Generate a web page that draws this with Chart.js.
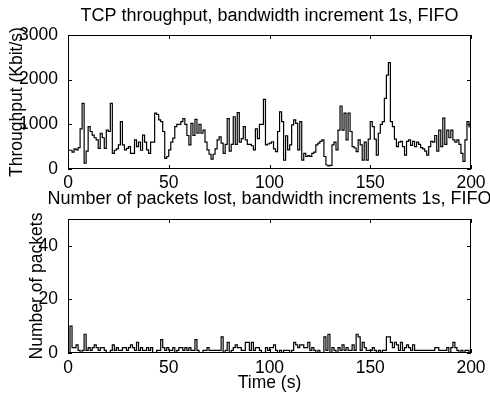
<!DOCTYPE html>
<html>
<head>
<meta charset="utf-8">
<script src="https://cdn.jsdelivr.net/npm/chart.js@4"></script>
<style>
  html, body { margin: 0; padding: 0; background: #fff; overflow: hidden; }
  body { width: 490px; height: 396px; position: relative; }
  canvas { position: absolute; left: 0; }
  #top { top: 0; }
  #bottom { top: 185px; }
</style>
</head>
<body>
<canvas id="top" width="490" height="196"></canvas>
<canvas id="bottom" width="490" height="211"></canvas>
<script>
// one value per second, t = 0..200 (last value is where the stair ends)
const throughput = [
  420, 420, 380, 450, 430, 480, 900, 1470, 130, 400,
  950, 840, 760, 700, 650, 460, 800, 700, 460, 870,
  840, 1470, 350, 420, 450, 540, 1060, 540, 430, 460,
  500, 350, 350, 650, 500, 600, 420, 760, 600, 430,
  350, 600, 600, 1250, 1220, 1100, 1060, 840, 240, 280,
  430, 600, 690, 950, 1000, 1000, 1060, 1130, 1000, 750,
  540, 1020, 750, 1110, 800, 1000, 800, 870, 600, 430,
  330, 220, 330, 450, 650, 720, 580, 350, 550, 1130,
  400, 550, 1170, 550, 1260, 600, 680, 950, 650, 550,
  550, 520, 430, 900, 680, 1000, 1000, 1560, 540, 560,
  580, 610, 450, 390, 840, 1280, 1060, 200, 740, 430,
  540, 990, 1100, 1020, 430, 1060, 200, 350, 280, 300,
  280, 350, 380, 540, 580, 620, 650, 280, 90, 70,
  80, 540, 600, 430, 870, 1410, 870, 1250, 650, 1250,
  840, 500, 470, 390, 650, 540, 200, 600, 200, 670,
  1060, 950, 670, 310, 800, 1000, 1060, 1580, 2100, 2380,
  1060, 950, 670, 500, 600, 620, 500, 310, 620, 650,
  530, 620, 500, 600, 550, 480, 450, 400, 310, 500,
  620, 600, 750, 400, 870, 500, 1140, 550, 870, 700,
  870, 650, 600, 650, 550, 350, 170, 650, 1060, 950,
  240
];

const packetsLost = [
  0, 10, 2, 2, 3, 1, 0, 1, 7, 1,
  2, 1, 2, 3, 2, 1, 2, 2, 1, 0,
  0, 1, 3, 1, 2, 1, 1, 2, 2, 1,
  2, 3, 2, 1, 4, 1, 2, 1, 1, 2,
  1, 2, 0, 0, 1, 1, 5, 2, 1, 2,
  1, 1, 2, 0, 1, 2, 2, 1, 2, 1,
  2, 1, 1, 5, 1, 0, 0, 1, 1, 2,
  1, 1, 1, 1, 1, 1, 6, 0, 1, 4,
  0, 1, 2, 3, 2, 2, 1, 1, 4, 4,
  1, 4, 1, 2, 2, 1, 0, 0, 2, 1,
  2, 2, 3, 1, 0, 1, 0, 1, 1, 1,
  0, 1, 4, 3, 2, 3, 3, 2, 2, 4,
  1, 2, 1, 0, 1, 0, 0, 6, 1, 7,
  0, 2, 1, 0, 2, 1, 3, 1, 2, 1,
  1, 3, 1, 7, 6, 1, 4, 2, 1, 1,
  1, 2, 1, 0, 1, 0, 1, 1, 6, 6,
  4, 2, 4, 3, 1, 4, 1, 2, 3, 2,
  1, 3, 1, 1, 1, 1, 1, 1, 1, 1,
  1, 1, 2, 2, 1, 1, 1, 1, 2, 0,
  2, 4, 2, 1, 0, 1, 0, 1, 1, 0,
  0
];

const timeTicks = [0, 50, 100, 150, 200];
const throughputTicks = [0, 1000, 2000, 3000];
const packetTicks = [0, 20, 40];

Chart.defaults.font.family = '"Liberation Sans", Arial, Helvetica, sans-serif';
Chart.defaults.font.size = 17.5;
Chart.defaults.color = '#000';

// matlab-ish box with inward ticks on all four sides, plus the title
const frame = {
  id: 'frame',
  afterDraw(chart, args, opts) {
    const { ctx, chartArea: a, scales: { x, y } } = chart;
    ctx.save();
    ctx.strokeStyle = '#000';
    ctx.lineWidth = 1;
    ctx.strokeRect(a.left + 0.5, a.top + 0.5, a.width - 1, a.height - 1);
    ctx.beginPath();
    x.ticks.forEach(t => {
      const px = Math.round(x.getPixelForValue(t.value)) + 0.5;
      ctx.moveTo(px, a.bottom); ctx.lineTo(px, a.bottom - 4);
      ctx.moveTo(px, a.top); ctx.lineTo(px, a.top + 4);
    });
    y.ticks.forEach(t => {
      const py = Math.round(y.getPixelForValue(t.value)) + 0.5;
      ctx.moveTo(a.left, py); ctx.lineTo(a.left + 4, py);
      ctx.moveTo(a.right, py); ctx.lineTo(a.right - 4, py);
    });
    ctx.stroke();
    ctx.font = '18px "Liberation Sans", Arial, sans-serif';
    ctx.fillStyle = '#000';
    ctx.textAlign = 'center';
    ctx.textBaseline = 'alphabetic';
    ctx.fillText(opts.text, (a.left + a.right) / 2, opts.baseline);
    ctx.restore();
  }
};

function makeChart(id, values, yTicks, yMax, o) {
  const points = values.map((v, i) => ({ x: i, y: v }));
  return new Chart(document.getElementById(id), {
    type: 'line',
    data: {
      datasets: [{
        data: points,
        stepped: 'before',
        borderColor: '#000',
        borderWidth: 1.2,
        pointRadius: 0,
        fill: false
      }]
    },
    options: {
      responsive: false,
      animation: false,
      layout: { padding: { left: 0, right: 19, top: o.top, bottom: 0 } },
      plugins: {
        legend: { display: false },
        tooltip: { enabled: false },
        frame: { text: o.title, baseline: o.titleBaseline }
      },
      scales: {
        x: {
          type: 'linear',
          min: 0,
          max: 200,
          grid: { display: false },
          border: { display: false },
          afterBuildTicks: s => { s.ticks = timeTicks.map(v => ({ value: v })); },
          ticks: { padding: o.xTickPad, maxRotation: 0, callback: v => String(v) },
          title: { display: !!o.xTitle, text: o.xTitle || '', padding: { top: 0, bottom: 2 } },
          afterFit: s => { s.height = o.xHeight; }
        },
        y: {
          min: 0,
          max: yMax,
          grid: { display: false },
          border: { display: false },
          afterBuildTicks: s => { s.ticks = yTicks.map(v => ({ value: v })); },
          ticks: { padding: 2, callback: v => String(v) },
          title: { display: true, text: o.yTitle, padding: { top: o.yTitlePad, bottom: 0 } },
          afterFit: s => { s.width = 68; }
        }
      }
    },
    plugins: [frame]
  });
}

makeChart('top', throughput, throughputTicks, 3000, {
  title: 'TCP throughput, bandwidth increment 1s, FIFO',
  titleBaseline: 21,
  top: 35,
  xHeight: 27,
  xTickPad: -4,
  yTitle: 'Throughput (Kbit/s)',
  yTitlePad: 7
});

makeChart('bottom', packetsLost, packetTicks, 50, {
  title: 'Number of packets lost, bandwidth increments 1s, FIFO',
  titleBaseline: 19,
  top: 34,
  xHeight: 43,
  xTickPad: -3,
  xTitle: 'Time (s)',
  yTitle: 'Number of packets',
  yTitlePad: 27
});
</script>
</body>
</html>
